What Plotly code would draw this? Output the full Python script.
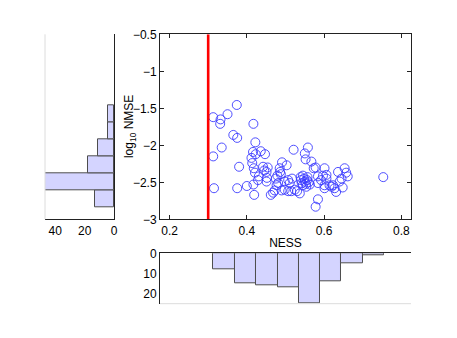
import plotly.graph_objects as go

# scatter data: NESS vs log10 NMSE
ness = [
    0.313, 0.313, 0.315, 0.332, 0.331, 0.335, 0.350, 0.365,
    0.374, 0.375, 0.380, 0.375, 0.400, 0.417, 0.422, 0.416, 0.412, 0.414,
    0.418, 0.421, 0.417, 0.419, 0.423,
    0.436, 0.447, 0.442, 0.454, 0.451, 0.431, 0.429, 0.451, 0.452, 0.462,
    0.468, 0.477, 0.472, 0.479, 0.475, 0.445,
    0.491, 0.503, 0.485, 0.488, 0.481, 0.498, 0.507, 0.511, 0.507, 0.515,
    0.498, 0.490, 0.521, 0.517, 0.524, 0.530, 0.486,
    0.537, 0.539, 0.540, 0.542, 0.545, 0.548, 0.550, 0.553, 0.556, 0.557,
    0.554, 0.560, 0.558, 0.550, 0.552, 0.567, 0.573, 0.578, 0.584, 0.584,
    0.584, 0.578, 0.545, 0.563,
    0.601, 0.597, 0.606, 0.601, 0.606, 0.614, 0.601, 0.619, 0.627, 0.631,
    0.623, 0.636, 0.640, 0.592,
    0.653, 0.657, 0.661, 0.645, 0.648,
    0.753,
]
log_nmse = [
    -1.62, -2.15, -2.58, -1.65, -1.71, -2.03, -1.58, -1.86,
    -1.455, -1.90, -2.29, -2.58, -2.55, -1.71, -1.96, -2.09, -2.17, -2.24,
    -2.31, -2.37, -2.53, -2.67, -2.12,
    -2.08, -2.12, -2.29, -2.30, -2.36, -2.42, -2.47, -2.49, -2.44, -2.67,
    -2.64, -2.54, -2.61, -2.41, -2.45, -2.34,
    -2.23, -2.27, -2.31, -2.39, -2.51, -2.49, -2.47, -2.51, -2.62, -2.62,
    -2.60, -2.61, -2.06, -2.45, -2.60, -2.62, -2.36,
    -2.65, -2.43, -2.47, -2.51, -2.54, -2.45, -2.49, -2.52, -2.47, -2.43,
    -2.56, -2.50, -2.03, -2.11, -2.19, -2.22, -2.31, -2.30, -2.42, -2.51,
    -2.73, -2.83, -2.41, -2.53,
    -2.31, -2.41, -2.45, -2.54, -2.40, -2.54, -2.58, -2.56, -2.58, -2.63,
    -2.54, -2.36, -2.49, -2.47,
    -2.31, -2.37, -2.42, -2.45, -2.57,
    -2.43,
]

ness_threshold = 0.3

# histogram of NESS (bottom panel)
ness_bin_centers = [0.341, 0.397, 0.452, 0.507, 0.562, 0.617, 0.672, 0.728]
ness_bin_width = 0.0552
ness_counts = [8, 15, 16, 17, 25, 14, 5, 1]

# histogram of log10 NMSE (left panel)
nmse_bin_centers = [-2.723, -2.492, -2.262, -2.031, -1.801, -1.570]
nmse_bin_width = 0.2305
nmse_counts = [13, 47, 18, 11, 4, 4]

FONT = "Liberation Sans, Arial, sans-serif"
bar_fill = "rgb(212,212,255)"
bar_edge = "#4d4d4d"
dot_color = "rgb(60,60,255)"

main_x = [0.3501, 0.8993]
main_y = [0.3512, 0.8985]
left_x = [0.0985, 0.2495]
bottom_y = [0.1015, 0.2506]

fig = go.Figure()

fig.add_trace(go.Scatter(
    x=ness, y=log_nmse, mode="markers",
    marker=dict(symbol="circle-open", size=9, color=dot_color,
                line=dict(width=0.9, color=dot_color)),
    xaxis="x", yaxis="y", showlegend=False,
))
fig.add_trace(go.Scatter(
    x=[ness_threshold, ness_threshold], y=[-3, -0.5], mode="lines",
    line=dict(color="red", width=2.6),
    xaxis="x", yaxis="y", showlegend=False,
))

fig.add_trace(go.Bar(
    y=nmse_bin_centers, x=nmse_counts, orientation="h", width=nmse_bin_width,
    marker=dict(color=bar_fill, line=dict(color=bar_edge, width=1)),
    xaxis="x2", yaxis="y2", showlegend=False,
))
fig.add_trace(go.Bar(
    x=ness_bin_centers, y=ness_counts, width=ness_bin_width,
    marker=dict(color=bar_fill, line=dict(color=bar_edge, width=1)),
    xaxis="x3", yaxis="y3", showlegend=False,
))

axis_common = dict(showgrid=False, zeroline=False, showline=True,
                   linecolor="#222", linewidth=1, automargin=False,
                   tickfont=dict(family=FONT, size=12, color="black"))

fig.update_layout(
    width=457, height=338,
    margin=dict(l=0, r=0, t=0, b=0),
    paper_bgcolor="white", plot_bgcolor="white",
    font=dict(family=FONT, size=12, color="black"),
    bargap=0,
    xaxis=dict(domain=main_x, range=[0.1753, 0.8247], anchor="y",
               tickvals=[0.2, 0.4, 0.6, 0.8], ticks="inside", ticklen=4,
               tickcolor="#222", mirror="ticks",
               title=dict(text="NESS", standoff=1,
                          font=dict(family=FONT, size=12)),
               **axis_common),
    yaxis=dict(domain=main_y, range=[-3, -0.5], anchor="x",
               tickvals=[-3, -2.5, -2, -1.5, -1, -0.5], ticks="inside",
               ticklen=4, tickcolor="#222", mirror="ticks",
               **axis_common),
    xaxis2=dict(domain=left_x, range=[47, 0], anchor="y2",
                tickvals=[0, 20, 40], ticks="", **axis_common),
    yaxis2=dict(domain=main_y, range=[-3, -0.5], anchor="x2", side="right",
                showticklabels=False, ticks="", **axis_common),
    xaxis3=dict(domain=main_x, range=[0.1753, 0.8247], anchor="y3",
                side="top", showticklabels=False, ticks="", **axis_common),
    yaxis3=dict(domain=bottom_y, range=[25, 0], anchor="x3",
                tickvals=[0, 10, 20], ticks="", **axis_common),
    shapes=[
        dict(type="line", xref="paper", yref="paper",
             x0=left_x[0], x1=left_x[0], y0=main_y[0], y1=main_y[1],
             line=dict(color="#dcdcdc", width=1)),
        dict(type="line", xref="paper", yref="paper",
             x0=main_x[0], x1=main_x[1], y0=bottom_y[0], y1=bottom_y[0],
             line=dict(color="#dcdcdc", width=1)),
    ],
    annotations=[
        # y title sits closer to the tick labels than plotly's standoff allows
        dict(text="log<sub>10</sub> NMSE", textangle=-90, showarrow=False,
             xref="paper", yref="paper", x=0.285,
             y=(main_y[0] + main_y[1]) / 2,
             xanchor="center", yanchor="middle",
             font=dict(family=FONT, size=12, color="black")),
    ],
)

# drop the browser's default page margin so the figure sits at 0,0
fig.write_html("out.html", config={"displayModeBar": False},
               post_script="document.body.style.margin='0';")
